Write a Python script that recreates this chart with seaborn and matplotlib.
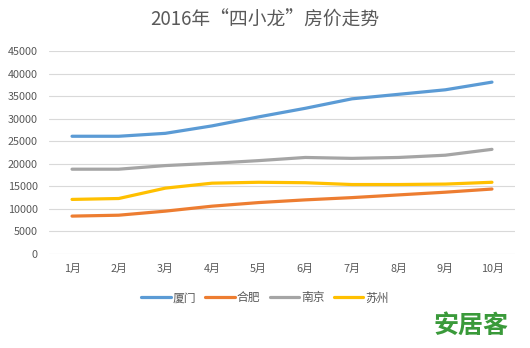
import matplotlib
matplotlib.use("Agg")
import matplotlib.pyplot as plt
import seaborn as sns
import pandas as pd
from matplotlib.lines import Line2D

months = ["1月", "2月", "3月", "4月", "5月", "6月", "7月", "8月", "9月", "10月"]
xiamen = [26100, 26100, 26750, 28400, 30400, 32300, 34400, 35400, 36400, 38100]
hefei = [8400, 8600, 9500, 10600, 11400, 12000, 12500, 13100, 13700, 14400]
nanjing = [18800, 18800, 19600, 20100, 20700, 21400, 21200, 21400, 21900, 23200]
suzhou = [12100, 12300, 14600, 15700, 15900, 15800, 15400, 15400, 15500, 15900]
cities = ["厦门", "合肥", "南京", "苏州"]
colors = ["#5B9BD5", "#ED7D31", "#A5A5A5", "#FFC000"]
yticks = list(range(0, 45001, 5000))

sns.set_theme(style="white")
plt.rcParams["font.family"] = ["Noto Sans CJK SC", "DejaVu Sans"]

rows = []
for city, vals in zip(cities, [xiamen, hefei, nanjing, suzhou]):
    for m, v in zip(months, vals):
        rows.append({"月份": m, "价格": v, "城市": city})
df = pd.DataFrame(rows)

fig = plt.figure(figsize=(5.3, 3.48), dpi=100)
ax = fig.add_axes([48.7 / 530, 1 - 254 / 348, (515.3 - 48.7) / 530, (254 - 51) / 348])
sns.lineplot(data=df, x="月份", y="价格", hue="城市", palette=colors,
             linewidth=2.3, sort=False, ax=ax, legend=False)
for ln in ax.lines:
    ln.set_solid_joinstyle("round")
    ln.set_solid_capstyle("round")

ax.set_xlim(-0.5, len(months) - 0.5)
ax.set_ylim(0, 45000)
ax.set_yticks(yticks)
ax.set_yticklabels([str(t) for t in yticks])
ax.set_xticks(range(len(months)))
ax.set_xticklabels(months)
ax.set_xlabel("")
ax.set_ylabel("")
ax.grid(axis="y", color="#D9D9D9", linewidth=0.8)
ax.set_axisbelow(True)
for s in ax.spines.values():
    s.set_visible(False)
ax.tick_params(axis="y", length=0, labelsize=7.8, colors="#595959", pad=8)
ax.tick_params(axis="x", length=0, labelsize=7.8, colors="#595959", pad=7)

fig.text(0.5, 1 - 20 / 348, "2016年“四小龙”房价走势", ha="center", va="center",
         fontsize=13.5, color="#595959")

handles = [Line2D([0], [0], color=c, linewidth=2.3) for c in colors]
fig.legend(handles, cities, loc="center", bbox_to_anchor=(265 / 530, 1 - 298 / 348),
           ncol=4, frameon=False, fontsize=8.5, handlelength=2.5, handletextpad=0.15,
           columnspacing=0.8, labelcolor="#595959")

fig.text(471 / 530, 1 - 326 / 348, "安居客", ha="center", va="center",
         fontsize=18, fontweight="bold", color="#3A9A3A")

fig.savefig("out.png", dpi=100)
